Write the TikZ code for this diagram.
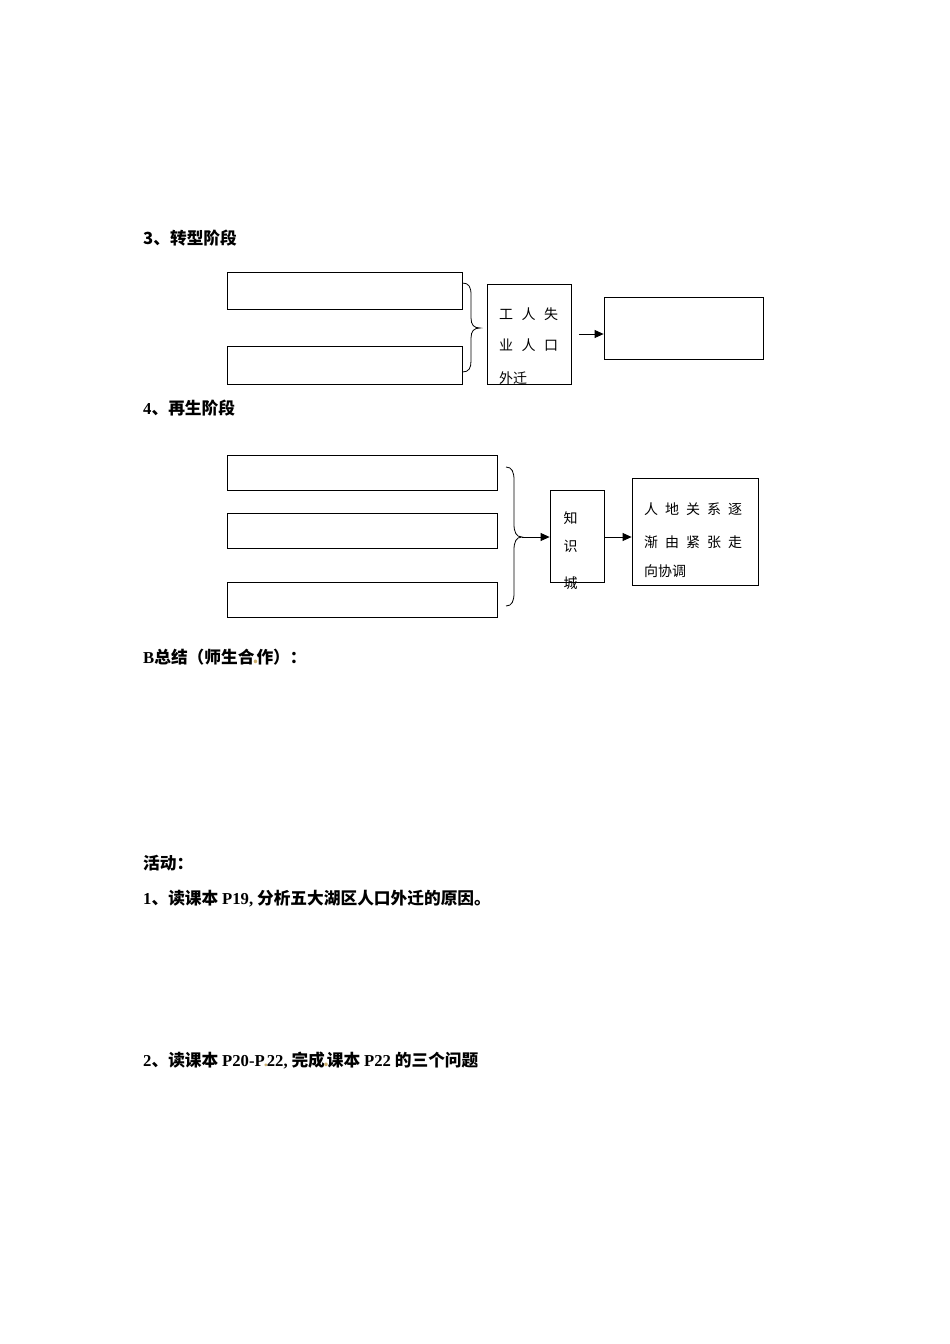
\documentclass[tikz,border=0pt]{standalone}
\usepackage{fontspec}
\setmainfont{Liberation Serif}
\newfontfamily\cjk{Noto Sans CJK SC}
\usetikzlibrary{arrows.meta}
\definecolor{dotc}{RGB}{205,175,110}
\newcommand{\gapk}{\hspace{8.5pt}}
\newcommand{\gapr}{\hspace{7pt}}
\newcommand{\tandot}{\makebox[2pt]{\textcolor{dotc}{.}}}
\tikzset{
  box/.style={draw=black, line width=0.8pt, inner sep=0pt, fill=none},
  head/.style={anchor=west, inner sep=0pt, font=\cjk\bfseries\fontsize{16.7}{19}\selectfont},
  boxtxt/.style={anchor=west, inner sep=0pt, font=\cjk\fontsize{14}{16}\selectfont},
  boxtxtc/.style={anchor=center, inner sep=0pt, font=\cjk\fontsize{14}{16}\selectfont},
  arr/.style={line width=0.8pt, -{Triangle[length=9pt,width=8pt]}},
  bracepath/.style={line width=0.8pt}
}
\begin{document}
\begin{tikzpicture}[x=1pt,y=-1pt]
\fill[white] (0,0) rectangle (950,1344);
\useasboundingbox (0,0) rectangle (950,1344);

% headings
\node[head] (h3) at (143,238.5) {3、转型阶段};
\node[head] (h4) at (143,408.5) {{\rmfamily 4}、再生阶段};
\node[head] (hb) at (143,657) {{\rmfamily B}总结（师生合\tandot 作）：};
\node[head] (hact) at (143,863) {活动：};
\node[head] (l1) at (143,898.5) {{\rmfamily 1}、读课本 {\rmfamily P19,} 分析五大湖区人口外迁的原因。};
\node[head] (l2) at (143,1060) {{\rmfamily 2}、读课本 {\rmfamily P20-P\tandot 22,} 完成\tandot 课本 {\rmfamily P22} 的三个问题};

% section 3
\node[box, minimum width=235pt, minimum height=37pt] (a1) at (344.5,290.5) {};
\node[box, minimum width=235pt, minimum height=38pt] (a2) at (344.5,365) {};
\node[box, minimum width=84pt, minimum height=100pt] (a3) at (529,334) {};
\node[box, minimum width=159pt, minimum height=62pt] (a4) at (683.5,328) {};
\node[boxtxt] (a3t1) at (499,314) {工\gapk 人\gapk 失};
\node[boxtxt] (a3t2) at (499,345) {业\gapk 人\gapk 口};
\node[boxtxt] (a3t3) at (499,378) {外迁};
\coordinate (atip) at (480,328);
\draw[bracepath] (a1.east |- 0,283) .. controls (469,283) and (471,287) .. (471,295)
  -- (471,318) .. controls (471,325) and (474,328) .. (atip)
  .. controls (474,328) and (471,331) .. (471,338)
  -- (471,361) .. controls (471,368) and (469,372) .. (a2.east |- 0,372);
\coordinate (as) at (579,334);
\draw[arr] (as) -- (as -| a4.west);

% section 4
\node[box, minimum width=270pt, minimum height=35pt] (b1) at (362,472.5) {};
\node[box, minimum width=270pt, minimum height=35pt] (b2) at (362,530.5) {};
\node[box, minimum width=270pt, minimum height=35pt] (b3) at (362,599.5) {};
\node[box, minimum width=54pt, minimum height=92pt] (k) at (577,536) {};
\node[box, minimum width=126pt, minimum height=107pt] (r) at (695,531.5) {};
\node[boxtxtc] (k1) at (570.5,518.5) {知};
\node[boxtxtc] (k2) at (570.5,546.5) {识};
\node[boxtxtc] (k3) at (570.5,583.5) {城};
\node[boxtxt] (r1) at (644,509) {人\gapr 地\gapr 关\gapr 系\gapr 逐};
\node[boxtxt] (r2) at (644,542.5) {渐\gapr 由\gapr 紧\gapr 张\gapr 走};
\node[boxtxt] (r3) at (644,571.5) {向协调};
\coordinate (btop) at (506,467);
\coordinate (bbot) at (506,606);
\coordinate (btip) at (522,537);
\draw[bracepath] (btop) .. controls (512,467) and (514,472) .. (514,480)
  -- (514,524) .. controls (514,532) and (516,537) .. (btip)
  .. controls (516,537) and (514,542) .. (514,550)
  -- (514,593) .. controls (514,601) and (512,606) .. (bbot);
\draw[arr] (btip) -- (btip -| k.west);
\draw[arr] (k.east |- btip) -- (btip -| r.west);
\end{tikzpicture}
\end{document}
